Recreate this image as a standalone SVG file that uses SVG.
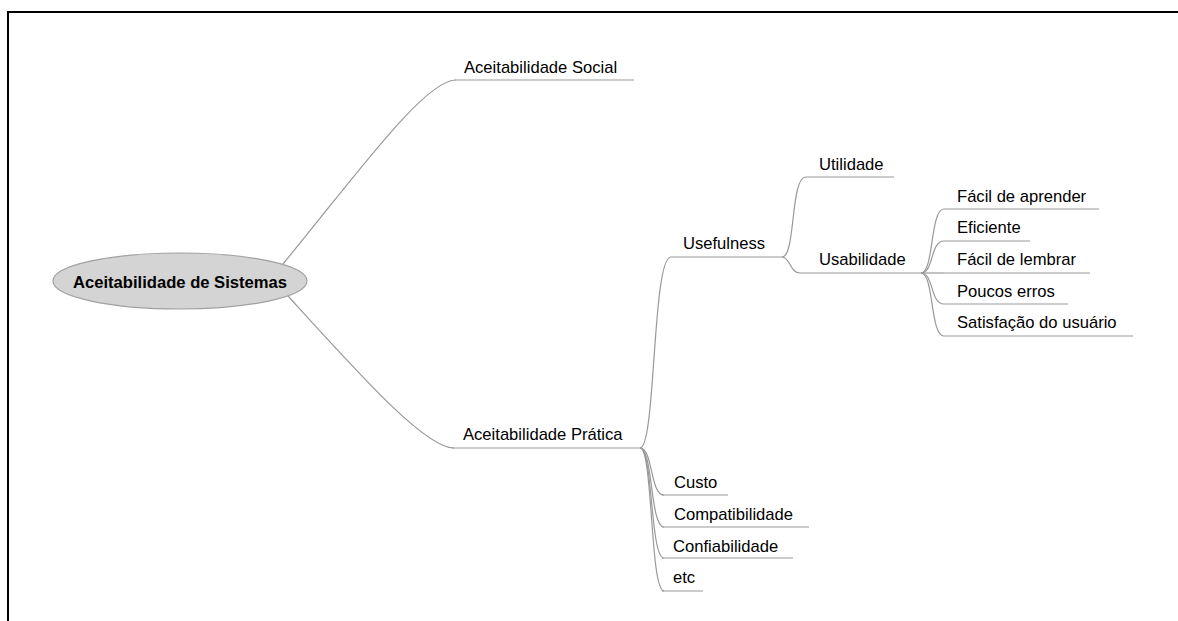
<svg xmlns="http://www.w3.org/2000/svg" width="1178" height="621" viewBox="0 0 1178 621">
<style>
.t{font-family:"Liberation Sans",Arial,sans-serif;font-size:16.6px;fill:#000}
.b{font-weight:bold;text-anchor:middle}
.u{stroke:#999;stroke-width:1.2;fill:none}
.c{stroke:#999;stroke-width:1.2;fill:none}
</style>
<rect x="0" y="0" width="1178" height="621" fill="#fff"/>
<path d="M8,621 V12 H1178" stroke="#000" stroke-width="2" fill="none"/>
<g id="connectors">
<path class="c" d="M283,264 C360,170 425,80 456,80"/>
<path class="c" d="M288,296 C360,375 425,448 454,448"/>
<path class="c" d="M640,448 C656,448 652,257 671,257"/>
<path class="c" d="M782,257 C796,257 790,177 806,177"/>
<path class="c" d="M782,257 C790,257 790,273 800,273"/>
<path class="c" d="M921,273 C934,273 930,209 944,209"/>
<path class="c" d="M921,273 C934,273 930,241 944,241"/>
<path class="c" d="M921,273 H944"/>
<path class="c" d="M921,273 C934,273 930,304 944,304"/>
<path class="c" d="M921,273 C934,273 930,336 944,336"/>
<path class="c" d="M640,448 C653,448 650,495 664,495"/>
<path class="c" d="M640,448 C653,448 650,527 664,527"/>
<path class="c" d="M640,448 C653,448 650,558 664,558"/>
<path class="c" d="M640,448 C653,448 650,591 664,591"/>
</g>
<g id="root">
<ellipse cx="180" cy="281" rx="127" ry="28" fill="#d4d4d4" stroke="#a0a0a0" stroke-width="1.2"/>
<text class="t b" x="180" y="288">Aceitabilidade de Sistemas</text>
</g>
<g id="social"><path class="u" d="M455,80 H634"/><text class="t" x="464" y="73">Aceitabilidade Social</text></g>
<g id="pratica"><path class="u" d="M452,448 H640"/><text class="t" x="463" y="440">Aceitabilidade Prática</text></g>
<g id="usefulness"><path class="u" d="M671,257 H782"/><text class="t" x="683" y="249">Usefulness</text></g>
<g id="utilidade"><path class="u" d="M806,177 H894"/><text class="t" x="819" y="170">Utilidade</text></g>
<g id="usabilidade"><path class="u" d="M800,273 H921"/><text class="t" x="819" y="265">Usabilidade</text></g>
<g id="facil-aprender"><path class="u" d="M944,209 H1099"/><text class="t" x="957" y="202">Fácil de aprender</text></g>
<g id="eficiente"><path class="u" d="M944,241 H1030"/><text class="t" x="957" y="233">Eficiente</text></g>
<g id="facil-lembrar"><path class="u" d="M944,273 H1090"/><text class="t" x="957" y="265">Fácil de lembrar</text></g>
<g id="poucos-erros"><path class="u" d="M944,304 H1068"/><text class="t" x="957" y="297">Poucos erros</text></g>
<g id="satisfacao"><path class="u" d="M944,336 H1133"/><text class="t" x="957" y="328">Satisfação do usuário</text></g>
<g id="custo"><path class="u" d="M662,495 H728"/><text class="t" x="674" y="488">Custo</text></g>
<g id="compatibilidade"><path class="u" d="M662,527 H809"/><text class="t" x="674" y="520">Compatibilidade</text></g>
<g id="confiabilidade"><path class="u" d="M662,558 H793"/><text class="t" x="673" y="552">Confiabilidade</text></g>
<g id="etc"><path class="u" d="M662,591 H703"/><text class="t" x="673" y="583">etc</text></g>
</svg>
